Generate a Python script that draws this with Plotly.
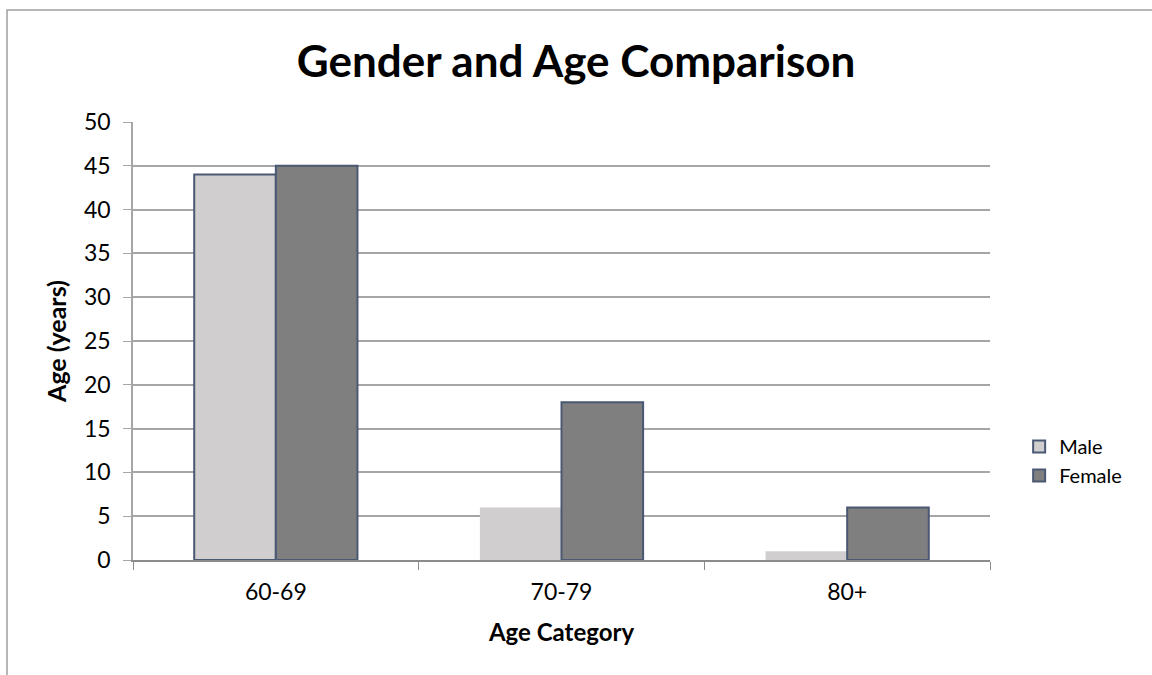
import plotly.graph_objects as go

# Chart data
categories = ["60-69", "70-79", "80+"]
male_counts = [44, 6, 1]
female_counts = [45, 18, 6]
y_ticks = [0, 5, 10, 15, 20, 25, 30, 35, 40, 45, 50]

FONT = "Lato"
OUTLINE = "#4a5874"
TICK_SIZE = 23

fig = go.Figure()
fig.add_trace(go.Bar(
    name="Male", x=categories, y=male_counts,
    marker=dict(color="#d0cece",
                line=dict(color=[OUTLINE, "rgba(0,0,0,0)", "rgba(0,0,0,0)"], width=2)),
))
fig.add_trace(go.Bar(
    name="Female", x=categories, y=female_counts,
    marker=dict(color="#7f7f7f", line=dict(color=OUTLINE, width=2)),
))

# outer chart-area frame
fig.add_shape(type="rect", xref="paper", yref="paper",
              x0=-0.147, y0=-0.6, x1=1.3, y1=1.2557,
              line=dict(color="#a0a0a0", width=1.5), fillcolor="rgba(0,0,0,0)",
              layer="below")

fig.update_layout(
    width=1152, height=675,
    margin=dict(l=133, r=162, t=122, b=115),
    paper_bgcolor="white", plot_bgcolor="white",
    barmode="group", bargap=0.4286, bargroupgap=0,
    font=dict(family=FONT, size=TICK_SIZE, color="black"),
    title=dict(text="<b>Gender and Age Comparison</b>", x=0.517, xref="paper",
               xanchor="center", y=0.909, yanchor="middle",
               font=dict(family=FONT, size=44, color="black")),
    showlegend=True,
    legend=dict(x=1.034, xanchor="left", y=0.226, yanchor="middle",
                font=dict(family=FONT, size=20), bgcolor="rgba(0,0,0,0)",
                tracegroupgap=0, itemwidth=30),
    xaxis=dict(
        title=dict(text="<b>Age Category</b>", font=dict(family=FONT, size=24), standoff=20),
        showline=True, linecolor="#8c8c8c", linewidth=1.5,
        ticks="outside", tickson="boundaries", ticklen=8, tickcolor="#8c8c8c",
        ticklabelstandoff=11,
        showgrid=False, tickfont=dict(size=TICK_SIZE),
    ),
    yaxis=dict(
        title=dict(text="<b>Age (years)</b>", font=dict(family=FONT, size=25), standoff=10),
        range=[0, 50], tickvals=y_ticks,
        showline=True, linecolor="#a6a6a6", linewidth=1.5,
        ticks="outside", ticklen=8, tickcolor="#a6a6a6",
        ticklabelstandoff=8,
        showgrid=True, gridcolor="#a6a6a6", gridwidth=1.5,
        zeroline=False, tickfont=dict(size=TICK_SIZE),
    ),
)

fig.write_html("out.html")
